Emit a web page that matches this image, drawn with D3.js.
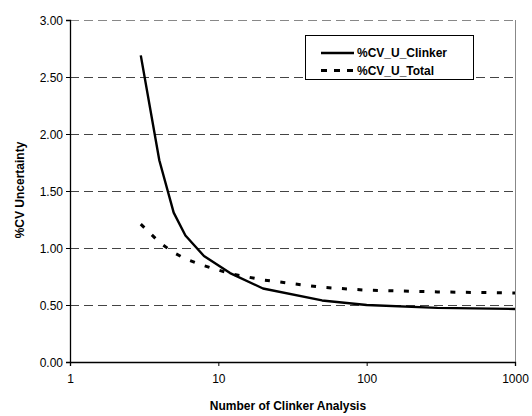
<!DOCTYPE html>
<html><head><meta charset="utf-8">
<script src="https://cdn.jsdelivr.net/npm/d3@7"></script>
<style>body{margin:0;background:#fff}svg{display:block}text{font-family:"Liberation Sans",Arial,sans-serif}</style>
</head><body><svg id="c" width="532" height="416"></svg>
<script>
const nValues = [3, 4, 5, 6, 8, 12, 20, 50, 100, 300, 1000];
const cvClinker = [2.69, 1.77, 1.31, 1.11, 0.93, 0.78, 0.645, 0.54, 0.50, 0.475, 0.465];
const cvTotal = [1.21, 1.05, 0.96, 0.905, 0.845, 0.775, 0.72, 0.655, 0.63, 0.615, 0.605];
const seriesNames = ["%CV_U_Clinker", "%CV_U_Total"];
const yTicks = [0, 0.5, 1, 1.5, 2, 2.5, 3];
const xTicks = [1, 10, 100, 1000];

const svg = d3.select("#c");
const L = 70, R = 515, T = 20, B = 362;
const x = d3.scaleLog().domain([1, 1000]).range([L, R]);
const y = d3.scaleLinear().domain([0, 3]).range([B, T]);

// gridlines
svg.append("g").selectAll("line").data(yTicks.filter(d => d > 0)).join("line")
  .attr("x1", L).attr("x2", R).attr("y1", d => Math.round(y(d)) + 0.5).attr("y2", d => Math.round(y(d)) + 0.5)
  .attr("stroke", d => d === 3 ? "#888" : "#444").attr("stroke-width", 1)
  .attr("stroke-dasharray", "9,5");
// right border
svg.append("line").attr("x1", R + 0.5).attr("x2", R + 0.5).attr("y1", T).attr("y2", B)
  .attr("stroke", "#888").attr("stroke-width", 1);

// axes
const yAxis = d3.axisLeft(y).tickValues(yTicks).tickFormat(d3.format(".2f")).tickSizeOuter(0).tickSize(4).tickPadding(3);
const gy = svg.append("g").attr("transform", `translate(${L},0)`).call(yAxis);
const xAxis = d3.axisBottom(x).tickValues(xTicks).tickFormat(d3.format("d")).tickSizeOuter(0).tickSize(4).tickPadding(8);
const gx = svg.append("g").attr("transform", `translate(0,${B})`).call(xAxis);
[gx, gy].forEach(g => {
  g.select(".domain").attr("stroke", "#000").attr("stroke-width", 1.3);
  g.selectAll(".tick line").attr("stroke", "#000");
  g.selectAll("text").attr("font-size", 12).attr("fill", "#000").style("font-family", '"Liberation Sans",Arial,sans-serif');
});
gy.selectAll("text").attr("dy", "0.35em");

// lines
const line = d3.line().x(d => x(d[0])).y(d => y(d[1]));
svg.append("path").datum(nValues.map((n, i) => [n, cvTotal[i]]))
  .attr("d", line).attr("fill", "none").attr("stroke", "#000")
  .attr("stroke-width", 3).attr("stroke-dasharray", "5,10.5");
svg.append("path").datum(nValues.map((n, i) => [n, cvClinker[i]]))
  .attr("d", line).attr("fill", "none").attr("stroke", "#000")
  .attr("stroke-width", 2.4).attr("stroke-linejoin", "round");

// axis titles
svg.append("text").attr("x", 288).attr("y", 410).attr("text-anchor", "middle")
  .attr("font-size", 12).attr("font-weight", "bold").text("Number of Clinker Analysis");
svg.append("text").attr("transform", "translate(24,190) rotate(-90)").attr("text-anchor", "middle")
  .attr("font-size", 12).attr("font-weight", "bold").text("%CV Uncertainty");

// legend
const lg = svg.append("g");
lg.append("rect").attr("x", 305.5).attr("y", 35.5).attr("width", 168).attr("height", 44)
  .attr("fill", "#fff").attr("stroke", "#000").attr("stroke-width", 1);
const ly = [53, 70.5];
lg.append("line").attr("x1", 321).attr("x2", 354).attr("y1", ly[0]).attr("y2", ly[0])
  .attr("stroke", "#000").attr("stroke-width", 2.4);
lg.append("line").attr("x1", 321).attr("x2", 354).attr("y1", ly[1]).attr("y2", ly[1])
  .attr("stroke", "#000").attr("stroke-width", 3).attr("stroke-dasharray", "6,7");
lg.selectAll("text.l").data(seriesNames).join("text").attr("class", "l")
  .attr("x", 357).attr("y", (d, i) => ly[i]).attr("dy", "0.36em")
  .attr("font-size", 12).attr("font-weight", "bold").text(d => d);
</script></body></html>
